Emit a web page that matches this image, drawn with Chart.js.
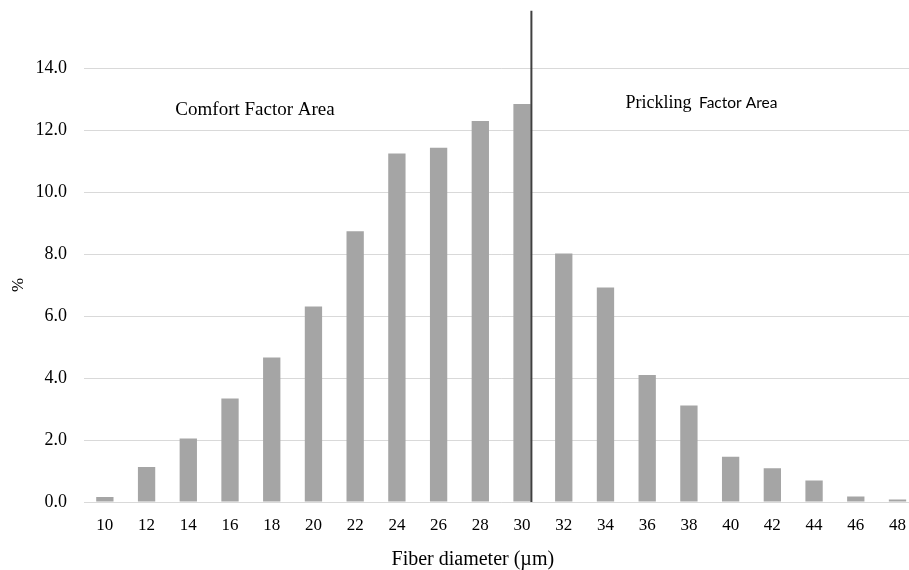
<!DOCTYPE html>
<html>
<head>
<meta charset="utf-8">
<script src="https://cdn.jsdelivr.net/npm/chart.js@4"></script>
<style>
  html, body { margin: 0; padding: 0; overflow: hidden; background: #fff; }
  #wrap { width: 919px; height: 570px; }
</style>
</head>
<body>
<div id="wrap"><canvas id="myChart" width="919" height="570"></canvas></div>
<script>
// fiber diameter classes (µm) and share of fibers (%)
var diameters = ['10', '12', '14', '16', '18', '20', '22', '24', '26', '28',
                 '30', '32', '34', '36', '38', '40', '42', '44', '46', '48'];
var shares = [0.16, 1.13, 2.05, 3.34, 4.66, 6.31, 8.73, 11.24, 11.43, 12.29,
              12.84, 8.02, 6.92, 4.10, 3.11, 1.46, 1.09, 0.69, 0.18, 0.08];
var yTicks = [0, 2, 4, 6, 8, 10, 12, 14];

var serif = '"Liberation Serif", "Times New Roman", serif';

// vertical divider after the 30 µm bar, the two area labels and the x title
var areaPlugin = {
    id: 'areas',
    afterDatasetsDraw: function (chart) {
        var ctx = chart.ctx;
        var x = chart.scales.x, y = chart.scales.y;
        var bar = chart.getDatasetMeta(0).data[diameters.indexOf('30')];
        var lx = bar.x + bar.width / 2 + 0.7;
        ctx.save();
        ctx.strokeStyle = '#404040';
        ctx.lineWidth = 2;
        ctx.beginPath();
        ctx.moveTo(lx, y.getPixelForValue(15.85));
        ctx.lineTo(lx, y.getPixelForValue(0));
        ctx.stroke();

        ctx.fillStyle = '#000';
        ctx.textBaseline = 'alphabetic';
        ctx.textAlign = 'center';
        ctx.font = '19px ' + serif;
        ctx.fillText('Comfort Factor Area', x.getPixelForValue(3.6), y.getPixelForValue(12.5));

        // "Prickling" in serif, "Factor Area" in a sans face, as in the original
        ctx.textAlign = 'left';
        var px = x.getPixelForValue(12.48), py = y.getPixelForValue(12.72);
        ctx.font = '18px ' + serif;
        ctx.fillText('Prickling', px, py);
        var w = ctx.measureText('Prickling ').width;
        ctx.font = '15.5px Lato, "Open Sans", sans-serif';
        ctx.fillText('Factor Area', px + w + 3, py);

        // axis title, centred like the original (a bit left of the canvas middle)
        ctx.textAlign = 'center';
        ctx.textBaseline = 'middle';
        ctx.font = '20px ' + serif;
        ctx.fillText('Fiber diameter (µm)', x.getPixelForValue(8.82), x.bottom - 10);
        ctx.restore();
    }
};

var ctx = document.getElementById('myChart').getContext('2d');
var chart = new Chart(ctx, {
    type: 'bar',
    data: {
        labels: diameters,
        datasets: [{
            label: '%',
            data: shares,
            backgroundColor: '#a5a5a5',
            borderWidth: 0,
            categoryPercentage: 1,
            barPercentage: 0.415
        }]
    },
    options: {
        responsive: false,
        animation: false,
        devicePixelRatio: 1,
        layout: { padding: { top: 68, left: 0, right: 0, bottom: 0 } },
        plugins: {
            legend: { display: false },
            tooltip: { enabled: false }
        },
        scales: {
            x: {
                grid: { display: false, drawTicks: false },
                border: { display: false },
                ticks: { color: '#000', padding: 13, maxRotation: 0, autoSkip: false, font: { family: serif, size: 17 } },
                title: { display: false },
                afterFit: function (scale) { scale.height = 68; }
            },
            y: {
                min: 0,
                max: 14,
                grid: { color: '#d9d9d9', lineWidth: 1, drawTicks: false },
                border: { display: false },
                afterBuildTicks: function (scale) {
                    scale.ticks = yTicks.map(function (v) { return { value: v }; });
                },
                ticks: {
                    color: '#000',
                    padding: 17,
                    font: { family: serif, size: 18 },
                    callback: function (v) { return Number(v).toFixed(1); }
                },
                title: { display: true, text: '%', color: '#000', padding: { top: 8, bottom: 0 }, font: { family: serif, size: 17 } },
                afterFit: function (scale) { scale.width = 84; }
            }
        }
    },
    plugins: [areaPlugin]
});
</script>
</body>
</html>
